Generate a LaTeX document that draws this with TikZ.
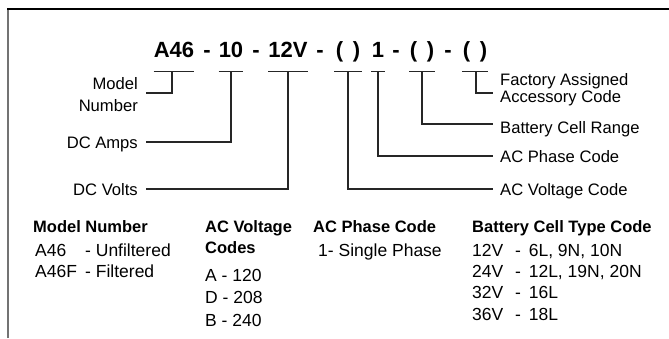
\documentclass[tikz,border=0pt]{standalone}
\usepackage{fontspec}
\setmainfont{Liberation Sans}
\setsansfont{Liberation Sans}
\begin{document}
\begin{tikzpicture}[x=1pt,y=-1pt,
           title_style/.style={font=\bfseries\fontsize{22}{24}\selectfont,anchor=base,inner sep=0pt},
           edge_style/.style={draw=black!85,line width=1.2pt},
           label_left/.style={font=\fontsize{16.6}{22}\selectfont,anchor=east,inner xsep=8pt},
           label_right/.style={font=\fontsize{16.6}{17}\selectfont,anchor=west,inner xsep=7pt},
           one_line/.style={text height=12pt,text depth=0pt},
           head_style/.style={font=\bfseries\fontsize{16.5}{20}\selectfont,anchor=base west,inner sep=0pt},
           row_style/.style={font=\fontsize{17.5}{20}\selectfont,anchor=base west,inner sep=0pt}]
            \useasboundingbox (0,0) rectangle (669,338);
            \draw[black!55,line width=1.6pt] (8,338) -- (8,9);
            \draw[black,line width=1.6pt] (7.2,9) -- (669,9);
            % part number
            \node[title_style] (t_model) at (174, 57.5) {A46};
            \node[title_style] (d1) at (207, 57.5) {-};
            \node[title_style] (t_amps) at (231, 57.5) {10};
            \node[title_style] (d2) at (256, 57.5) {-};
            \node[title_style] (t_volts) at (288, 57.5) {12V};
            \node[title_style] (d3) at (320, 57.5) {-};
            \node[title_style,minimum width=27pt] (t_acv) at (348, 57.5) {( \,)};
            \node[title_style,minimum width=13pt] (t_acp) at (378, 57.5) {1};
            \node[title_style] (d4) at (396, 57.5) {-};
            \node[title_style,minimum width=25pt] (t_bat) at (422, 57.5) {( \,)};
            \node[title_style] (d5) at (448, 57.5) {-};
            \node[title_style,minimum width=26pt] (t_fac) at (475, 57.5) {( \,)};
            % labels
            \node[label_left,align=right] (l_model) at (146, 95) {Model\\Number};
            \node[label_left,one_line] (l_amps) at (146, 142) {DC Amps};
            \node[label_left,one_line] (l_volts) at (146, 189) {DC Volts};
            \node[label_right,align=left] (l_fac) at (493, 90) {Factory Assigned\\Accessory Code};
            \node[label_right,one_line] (l_bat) at (493, 127) {Battery Cell Range};
            \node[label_right,one_line] (l_acp) at (493, 156) {AC Phase Code};
            \node[label_right,one_line] (l_acv) at (493, 189) {AC Voltage Code};
            \draw[edge_style] ([yshift=-14pt]t_model.base west) -- ([yshift=-14pt]t_model.base east)
                ([yshift=-14pt,xshift=-2pt]t_model.base) |- ([yshift=2pt]l_model.east);
            \draw[edge_style] ([yshift=-14pt]t_amps.base west) -- ([yshift=-14pt]t_amps.base east)
                ([yshift=-14pt]t_amps.base) |- (l_amps.east);
            \draw[edge_style] ([yshift=-14pt]t_volts.base west) -- ([yshift=-14pt]t_volts.base east)
                ([yshift=-14pt]t_volts.base) |- (l_volts.east);
            \draw[edge_style] ([yshift=-14pt]t_acv.base west) -- ([yshift=-14pt]t_acv.base east)
                ([yshift=-14pt]t_acv.base) |- (l_acv.west);
            \draw[edge_style] ([yshift=-14pt]t_acp.base west) -- ([yshift=-14pt]t_acp.base east)
                ([yshift=-14pt]t_acp.base) |- (l_acp.west);
            \draw[edge_style] ([yshift=-14pt]t_bat.base west) -- ([yshift=-14pt]t_bat.base east)
                ([yshift=-14pt]t_bat.base) |- ([yshift=3pt]l_bat.west);
            \draw[edge_style] ([yshift=-14pt]t_fac.base west) -- ([yshift=-14pt]t_fac.base east)
                ([yshift=-14pt,xshift=1pt]t_fac.base) |- ([yshift=-3pt]l_fac.west);
            % code tables
            \node[head_style] (h_model) at (33, 232) {Model Number};
            \node[row_style] (m1) at (35, 256) {A46};
            \node[row_style] (m1_txt) at (85, 256) {- Unfiltered};
            \node[row_style] (m2) at (35, 277) {A46F};
            \node[row_style] (m2_txt) at (85, 277) {- Filtered};
            \node[head_style] (h_acv) at (205, 232) {AC Voltage};
            \node[head_style] (h_acv2) at (205, 253) {Codes};
            \node[row_style] (v1) at (205, 281) {A - 120};
            \node[row_style] (v2) at (205, 303) {D - 208};
            \node[row_style] (v3) at (205, 326) {B - 240};
            \node[head_style] (h_acp) at (313, 232) {AC Phase Code};
            \node[row_style] (p1) at (318, 256) {1- Single Phase};
            \node[head_style] (h_bat) at (472, 232) {Battery Cell Type Code};
            \node[row_style] (b1) at (472, 256) {12V};
            \node[row_style] (b1_txt) at (515, 256) {-\ \,6L, 9N, 10N};
            \node[row_style] (b2) at (472, 277) {24V};
            \node[row_style] (b2_txt) at (515, 277) {-\ \,12L, 19N, 20N};
            \node[row_style] (b3) at (472, 298) {32V};
            \node[row_style] (b3_txt) at (515, 298) {-\ \,16L};
            \node[row_style] (b4) at (472, 320) {36V};
            \node[row_style] (b4_txt) at (515, 320) {-\ \,18L};
        \end{tikzpicture}
\end{document}
